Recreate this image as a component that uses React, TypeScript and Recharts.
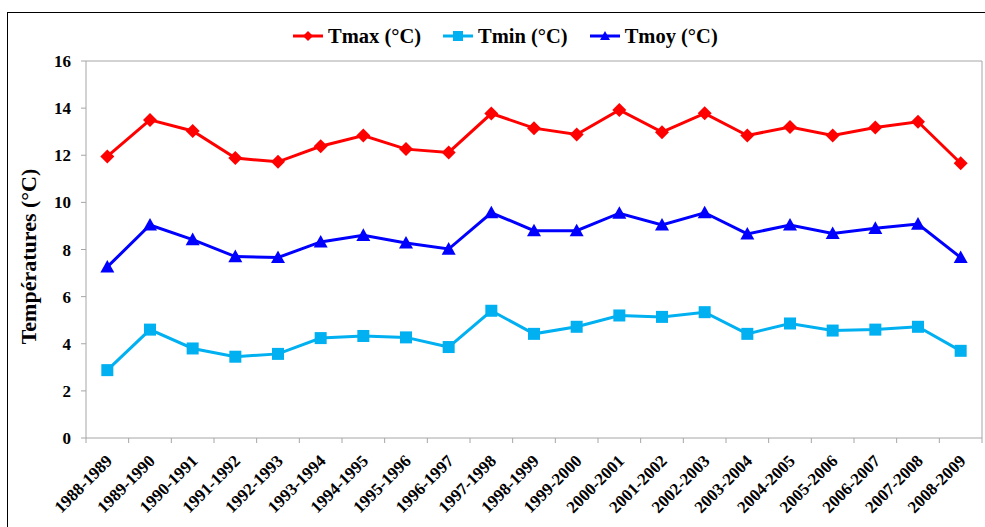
import React from "react";
import {
  LineChart,
  Line,
  XAxis,
  YAxis,
  Legend,
  CartesianGrid,
} from "recharts";

const seasons = [
  "1988-1989", "1989-1990", "1990-1991", "1991-1992", "1992-1993", "1993-1994",
  "1994-1995", "1995-1996", "1996-1997", "1997-1998", "1998-1999", "1999-2000",
  "2000-2001", "2001-2002", "2002-2003", "2003-2004", "2004-2005", "2005-2006",
  "2006-2007", "2007-2008", "2008-2009",
];

const tmax = [
  11.95, 13.5, 13.03, 11.88, 11.72, 12.38, 12.84, 12.26, 12.12, 13.77, 13.15,
  12.88, 13.92, 12.98, 13.78, 12.84, 13.2, 12.84, 13.18, 13.42, 11.66,
];
const tmin = [
  2.88, 4.6, 3.8, 3.45, 3.57, 4.24, 4.33, 4.27, 3.86, 5.4, 4.42, 4.72, 5.2,
  5.14, 5.34, 4.42, 4.86, 4.56, 4.6, 4.72, 3.7,
];
const tmoy = [
  7.26, 9.04, 8.42, 7.7, 7.66, 8.32, 8.6, 8.28, 8.02, 9.56, 8.8, 8.8, 9.54,
  9.04, 9.56, 8.66, 9.04, 8.68, 8.9, 9.08, 7.66,
];

const yTicks = [0, 2, 4, 6, 8, 10, 12, 14, 16];

const data = seasons.map((s, i) => ({
  season: s,
  tmax: tmax[i],
  tmin: tmin[i],
  tmoy: tmoy[i],
}));

const RED = "#FF0000";
const CYAN = "#00B0F0";
const BLUE = "#0000FF";
const GREY = "#A6A6A6";
const FONT = "'Liberation Serif', 'Times New Roman', serif";

const W = 985;
const H = 527;
const M = { top: 61, right: 3, bottom: 0, left: 0 };
const Y_W = 86;
const X_H = 89;
const BAND = (W - M.left - M.right - Y_W) / seasons.length;

const Diamond = ({ cx, cy, color = RED, size = 7 }: any) =>
  cx == null ? null : (
    <path
      d={`M${cx},${cy - size} L${cx + size},${cy} L${cx},${cy + size} L${cx - size},${cy} Z`}
      fill={color}
    />
  );

const Square = ({ cx, cy, color = CYAN, size = 6 }: any) =>
  cx == null ? null : (
    <rect x={cx - size} y={cy - size} width={size * 2} height={size * 2} fill={color} />
  );

const Triangle = ({ cx, cy, color = BLUE, size = 7 }: any) =>
  cx == null ? null : (
    <path
      d={`M${cx},${cy - size} L${cx + size},${cy + size * 0.8} L${cx - size},${cy + size * 0.8} Z`}
      fill={color}
    />
  );

const XTick = (props: any) => {
  const { x, payload, index } = props;
  const axisY = H - M.bottom - X_H;
  const last = index === seasons.length - 1;
  const tx = x + 6;
  const ty = axisY + 24;
  return (
    <g>
      <line x1={x - BAND / 2} y1={axisY} x2={x - BAND / 2} y2={axisY + 5} stroke={GREY} />
      {last && <line x1={x + BAND / 2} y1={axisY} x2={x + BAND / 2} y2={axisY + 5} stroke={GREY} />}
      <text
        x={tx}
        y={ty}
        textAnchor="end"
        transform={`rotate(-45, ${tx}, ${ty})`}
        fontFamily={FONT}
        fontWeight="bold"
        fontSize={17}
        fill="#000"
      >
        {payload.value}
      </text>
    </g>
  );
};

const legendItems = [
  { label: "Tmax (°C)", color: RED, Shape: Diamond },
  { label: "Tmin (°C)", color: CYAN, Shape: Square },
  { label: "Tmoy (°C)", color: BLUE, Shape: Triangle },
];

const LegendContent = () => (
  <div style={{ display: "flex", alignItems: "center", gap: 22, whiteSpace: "nowrap" }}>
    {legendItems.map(({ label, color, Shape }) => (
      <div key={label} style={{ display: "flex", alignItems: "center" }}>
        <svg width={32} height={14}>
          <line x1={0} y1={7} x2={30} y2={7} stroke={color} strokeWidth={3} />
          <Shape cx={15} cy={7} color={color} size={5} />
        </svg>
        <span
          style={{
            fontFamily: FONT,
            fontWeight: "bold",
            fontSize: 20.5,
            color: "#000",
            marginLeft: 3,
            lineHeight: "20px",
          }}
        >
          {label}
        </span>
      </div>
    ))}
  </div>
);

export default function App() {
  return (
    <div style={{ position: "relative", width: W, height: H, background: "#fff", overflow: "hidden" }}>
      <style>{`body{margin:0;overflow:hidden}`}</style>
      <div
        style={{
          position: "absolute",
          left: 7,
          top: 12,
          width: W,
          height: H,
          borderLeft: "1.5px solid #000",
          borderTop: "1.5px solid #000",
        }}
      />
      <LineChart width={W} height={H} data={data} margin={M}>
        {/* plot frame: top and right edges */}
        <CartesianGrid
          stroke={GREY}
          horizontalCoordinatesGenerator={({ offset }: any) => [offset.top]}
          verticalCoordinatesGenerator={({ offset }: any) => [offset.left + offset.width]}
        />
        <XAxis
          dataKey="season"
          height={X_H}
          interval={0}
          padding={{ left: BAND / 2, right: BAND / 2 }}
          tickLine={false}
          axisLine={{ stroke: GREY }}
          tick={<XTick />}
        />
        <YAxis
          width={Y_W}
          domain={[0, 16]}
          ticks={yTicks}
          interval={0}
          tickSize={5}
          tickMargin={10}
          axisLine={{ stroke: GREY }}
          tickLine={{ stroke: GREY }}
          tick={{ fontFamily: FONT, fontWeight: "bold", fontSize: 17, fill: "#000" }}
          label={{
            content: ({ viewBox }: any) => {
              const cx = viewBox.x + 28;
              const cy = viewBox.y + viewBox.height / 2 + 7;
              return (
                <text
                  x={cx}
                  y={cy}
                  textAnchor="middle"
                  dominantBaseline="central"
                  transform={`rotate(-90, ${cx}, ${cy})`}
                  fontFamily={FONT}
                  fontWeight="bold"
                  fontSize={22}
                  fill="#000"
                >
                  Températures (°C)
                </text>
              );
            },
          }}
        />
        <Legend
          layout="vertical"
          align="center"
          verticalAlign="middle"
          content={<LegendContent />}
          wrapperStyle={{ left: 293, top: 26, width: "auto" }}
        />
        <Line
          dataKey="tmax"
          name="Tmax (°C)"
          stroke={RED}
          strokeWidth={3}
          dot={<Diamond />}
          activeDot={false}
          isAnimationActive={false}
        />
        <Line
          dataKey="tmin"
          name="Tmin (°C)"
          stroke={CYAN}
          strokeWidth={3}
          dot={<Square />}
          activeDot={false}
          isAnimationActive={false}
        />
        <Line
          dataKey="tmoy"
          name="Tmoy (°C)"
          stroke={BLUE}
          strokeWidth={3}
          dot={<Triangle />}
          activeDot={false}
          isAnimationActive={false}
        />
      </LineChart>
    </div>
  );
}
